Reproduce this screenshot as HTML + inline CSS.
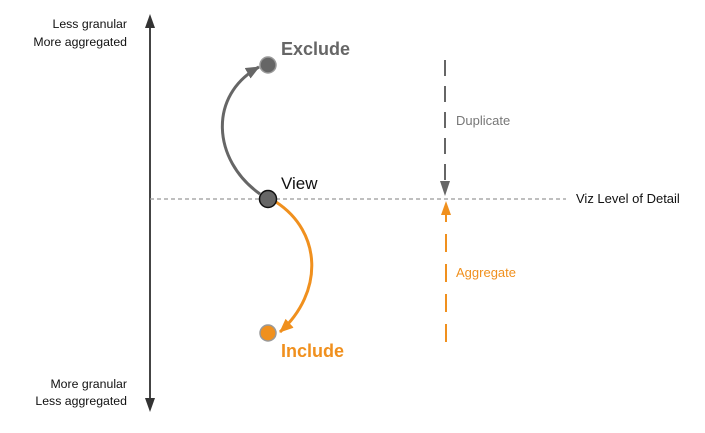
<!DOCTYPE html>
<html><head><meta charset="utf-8"><style>
html,body{margin:0;padding:0;background:#fff;}
svg{display:block;font-family:"Liberation Sans",Arial,sans-serif;}
</style></head><body>
<svg width="705" height="433" viewBox="0 0 705 433">
<defs>
<marker id="ag" markerWidth="14" markerHeight="12" refX="13" refY="6" orient="auto" markerUnits="userSpaceOnUse"><path d="M0,0 L14,6 L0,12 z" fill="#666"/></marker>
<marker id="ao" markerWidth="14" markerHeight="12" refX="13" refY="6" orient="auto" markerUnits="userSpaceOnUse"><path d="M0,0 L14,6 L0,12 z" fill="#f0901e"/></marker>
</defs>
<line x1="150" y1="24" x2="150" y2="402" stroke="#444" stroke-width="2"/>
<path d="M145,28 L150,14 L155,28 z" fill="#333"/>
<path d="M145,398 L150,412 L155,398 z" fill="#333"/>
<line x1="150" y1="199" x2="566" y2="199" stroke="#999" stroke-width="1.2" stroke-dasharray="4,3"/>
<line x1="445" y1="60" x2="445" y2="180" stroke="#666" stroke-width="2" stroke-dasharray="16,10"/>
<path d="M440,181 L445,196 L450,181 z" fill="#666"/>
<line x1="446" y1="342" x2="446" y2="215" stroke="#f0901e" stroke-width="2" stroke-dasharray="18,12"/>
<path d="M441,215 L446,201 L451,215 z" fill="#f0901e"/>
<path d="M260,194 C212,160 208,95 259,67" fill="none" stroke="#666" stroke-width="3" marker-end="url(#ag)"/>
<path d="M276,202 C322,232 324,292 280,332" fill="none" stroke="#f0901e" stroke-width="3" marker-end="url(#ao)"/>
<circle cx="268" cy="65" r="8" fill="#666" stroke="#999" stroke-width="1.5"/>
<circle cx="268" cy="199" r="8.5" fill="#666" stroke="#111" stroke-width="1.5"/>
<circle cx="268" cy="333" r="8" fill="#f0901e" stroke="#999" stroke-width="1.5"/>
<text x="281" y="55" font-size="18" font-weight="bold" fill="#666">Exclude</text>
<text x="281" y="189" font-size="17" fill="#111">View</text>
<text x="281" y="357" font-size="18" font-weight="bold" fill="#f0901e">Include</text>
<text x="456" y="125" font-size="13" fill="#777">Duplicate</text>
<text x="456" y="277" font-size="13" fill="#f0901e">Aggregate</text>
<text x="576" y="203" font-size="13" fill="#111">Viz Level of Detail</text>
<text x="127" y="28" font-size="12.3" fill="#111" text-anchor="end">Less granular</text>
<text x="127" y="46" font-size="12.3" fill="#111" text-anchor="end">More aggregated</text>
<text x="127" y="388" font-size="12.3" fill="#111" text-anchor="end">More granular</text>
<text x="127" y="405" font-size="12.3" fill="#111" text-anchor="end">Less aggregated</text>
</svg>
</body></html>
